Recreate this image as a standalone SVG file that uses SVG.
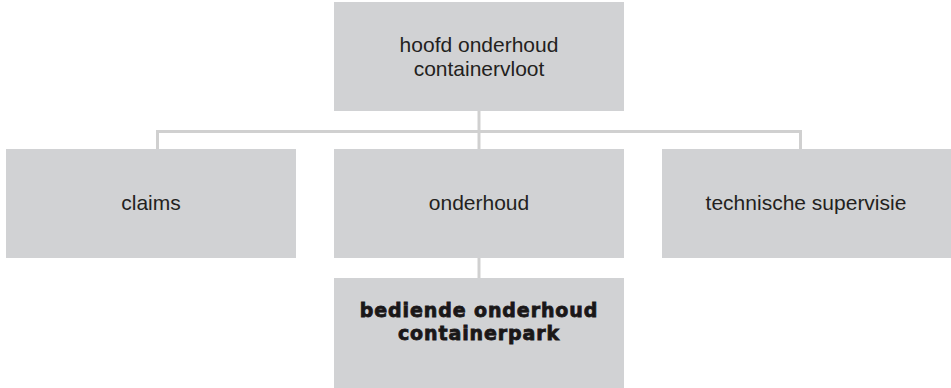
<svg xmlns="http://www.w3.org/2000/svg" width="951" height="388" viewBox="0 0 951 388">
<style>
.box{fill:#d1d2d4}
.t{font-family:"Liberation Sans",Arial,sans-serif;font-size:21px;fill:#231f20;text-anchor:middle}
.b{font-family:"DejaVu Sans","Liberation Sans",sans-serif;font-weight:bold;font-size:19px;letter-spacing:0.9px;fill:#1a1718;stroke:#1a1718;stroke-width:0.8;text-anchor:middle}
.c{fill:none;stroke:#d0d0d0;stroke-width:3}
</style>
<rect width="951" height="388" fill="#ffffff"/>
<g id="connectors">
<path class="c" d="M479 111V149"/>
<path class="c" d="M157.5 149V131.5H800.5V149"/>
<path class="c" d="M479 258V278"/>
</g>
<g id="hoofd">
<rect class="box" x="334" y="2" width="290" height="109"/>
<text class="t" x="479" y="52">hoofd onderhoud</text>
<text class="t" x="479" y="76">containervloot</text>
</g>
<g id="claims">
<rect class="box" x="6" y="149" width="290" height="109"/>
<text class="t" x="151" y="210">claims</text>
</g>
<g id="onderhoud">
<rect class="box" x="334" y="149" width="290" height="109"/>
<text class="t" x="479" y="210">onderhoud</text>
</g>
<g id="supervisie">
<rect class="box" x="662" y="149" width="289" height="109"/>
<text class="t" x="806" y="210">technische supervisie</text>
</g>
<g id="bediende">
<rect class="box" x="334" y="278" width="290" height="110"/>
<text class="b" x="479" y="317">bediende onderhoud</text>
<text class="b" x="479" y="340">containerpark</text>
</g>
</svg>
